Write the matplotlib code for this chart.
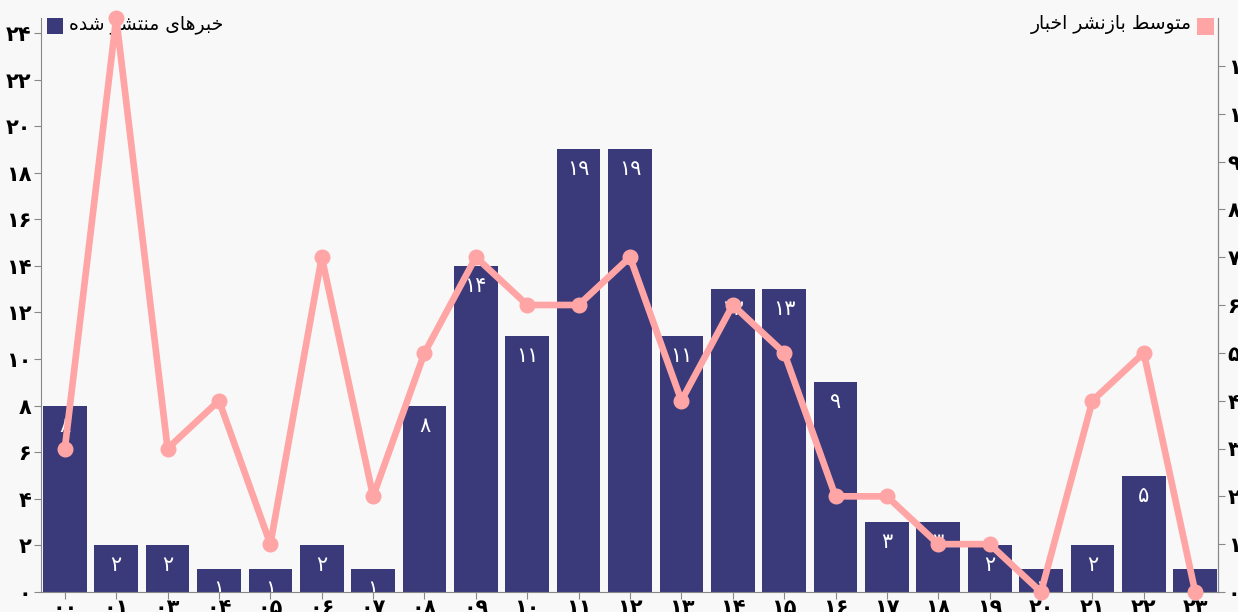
import matplotlib
matplotlib.use('Agg')
import matplotlib.pyplot as plt
from matplotlib.patches import Rectangle

# ---------------- data ----------------
hours = ['00', '01', '03', '04', '05', '06', '07', '08', '09', '10', '11', '12',
         '13', '14', '15', '16', '17', '18', '19', '20', '21', '22', '23']
published = [8, 2, 2, 1, 1, 2, 1, 8, 14, 11, 19, 19, 11, 13, 13, 9, 3, 3, 2, 1, 2, 5, 1]
avg_reshare = [3, 12, 3, 4, 1, 7, 2, 5, 7, 6, 6, 7, 4, 6, 5, 2, 2, 1, 1, 0, 4, 5, 0]
left_ticks = list(range(0, 25, 2))
right_ticks = list(range(0, 12))
legend_published = 'خبرهای منتشر شده'
legend_reshare = 'متوسط بازنشر اخبار'

BAR_COLOR = '#3a3a7a'
LINE_COLOR = '#ffa5a5'
FONT = ['DejaVu Sans']

# ---------------- helpers: Persian digits + simple Arabic shaping ----------------
FA_DIGITS = str.maketrans('0123456789', '۰۱۲۳۴۵۶۷۸۹')


def fa(n):
    return str(n).translate(FA_DIGITS)


DUAL = {
    'ب': (0xFE8F, 0xFE90, 0xFE91, 0xFE92),
    'ت': (0xFE95, 0xFE96, 0xFE97, 0xFE98),
    'خ': (0xFEA5, 0xFEA6, 0xFEA7, 0xFEA8),
    'س': (0xFEB1, 0xFEB2, 0xFEB3, 0xFEB4),
    'ش': (0xFEB5, 0xFEB6, 0xFEB7, 0xFEB8),
    'ط': (0xFEC1, 0xFEC2, 0xFEC3, 0xFEC4),
    'م': (0xFEE1, 0xFEE2, 0xFEE3, 0xFEE4),
    'ن': (0xFEE5, 0xFEE6, 0xFEE7, 0xFEE8),
    'ه': (0xFEE9, 0xFEEA, 0xFEEB, 0xFEEC),
    'ی': (0xFEEF, 0xFBFD, 0xFBFE, 0xFBFF),
}
RIGHT = {
    'ا': (0xFE8D, 0xFE8E),
    'د': (0xFEA9, 0xFEAA),
    'ر': (0xFEAD, 0xFEAE),
    'ز': (0xFEAF, 0xFEB0),
    'و': (0xFEED, 0xFEEE),
}


def shape(text):
    out = []
    n = len(text)
    for i, ch in enumerate(text):
        prev = text[i - 1] if i > 0 else ' '
        nxt = text[i + 1] if i < n - 1 else ' '
        joins_prev = prev in DUAL
        if ch in DUAL:
            joins_next = nxt in DUAL or nxt in RIGHT
            iso, fin, ini, med = DUAL[ch]
            if joins_prev and joins_next:
                out.append(chr(med))
            elif joins_prev:
                out.append(chr(fin))
            elif joins_next:
                out.append(chr(ini))
            else:
                out.append(chr(iso))
        elif ch in RIGHT:
            iso, fin = RIGHT[ch]
            out.append(chr(fin) if joins_prev else chr(iso))
        else:
            out.append(ch)
    return ''.join(reversed(out))


# ---------------- figure ----------------
W, H = 1238, 612
fig = plt.figure(figsize=(W / 100, H / 100), dpi=100, facecolor='#f8f8f8')
ax = fig.add_axes([41 / W, 20 / H, (1218 - 41) / W, (592 - 18) / H])
ax.set_facecolor('none')

x = list(range(len(hours)))
ax.bar(x, published, width=0.85, color=BAR_COLOR, zorder=2)
for xi, v in zip(x, published):
    ax.annotate(fa(v), (xi, v), xytext=(0, -20), textcoords='offset pixels',
                ha='center', va='center', color='white', fontsize=15,
                family=FONT, clip_on=True, zorder=3)

ax.set_xlim(-0.464, 22.444)
ax.set_ylim(0, 24.64)
ax.set_yticks(left_ticks)
ax.set_yticklabels([fa(t) for t in left_ticks], family=FONT, fontsize=15, fontweight='bold')
ax.set_xticks(x)
ax.set_xticklabels([fa(h) for h in hours], family=FONT, fontsize=15, fontweight='bold')
ax.spines['top'].set_visible(False)
for s in ['left', 'bottom', 'right']:
    ax.spines[s].set_color('#888888')
ax.tick_params(axis='both', colors='#888888', labelcolor='black', length=5, pad=2)
ax.tick_params(axis='x', pad=-1)

ax2 = ax.twinx()
ax2.set_ylim(0, 12)
ax2.set_yticks(right_ticks)
ax2.set_yticklabels([fa(t) for t in right_ticks], family=FONT, fontsize=15, fontweight='bold')
ax2.tick_params(axis='y', colors='#888888', labelcolor='black', length=5, pad=2)
ax2.spines['top'].set_visible(False)
ax2.spines['left'].set_visible(False)
ax2.spines['bottom'].set_visible(False)
ax2.spines['right'].set_color('#888888')
ax2.plot(x, avg_reshare, color=LINE_COLOR, linewidth=4.8, marker='o',
         markersize=10.5, clip_on=False, zorder=5)

# ---------------- legends ----------------
fig.patches.append(Rectangle((47 / W, 1 - 34 / H), 16 / W, 16 / H, transform=fig.transFigure,
                             facecolor=BAR_COLOR, edgecolor='none', zorder=-1))
fig.text(69 / W, 1 - 25 / H, shape(legend_published), ha='left', va='center',
         fontsize=13.5, family=FONT, zorder=-1)
fig.patches.append(Rectangle((1197 / W, 1 - 35 / H), 17 / W, 17 / H, transform=fig.transFigure,
                             facecolor=LINE_COLOR, edgecolor='none', zorder=-1))
fig.text(1192 / W, 1 - 25 / H, shape(legend_reshare), ha='right', va='center',
         fontsize=13.5, family=FONT, zorder=-1)

fig.savefig('out.png', dpi=100, facecolor=fig.get_facecolor())
